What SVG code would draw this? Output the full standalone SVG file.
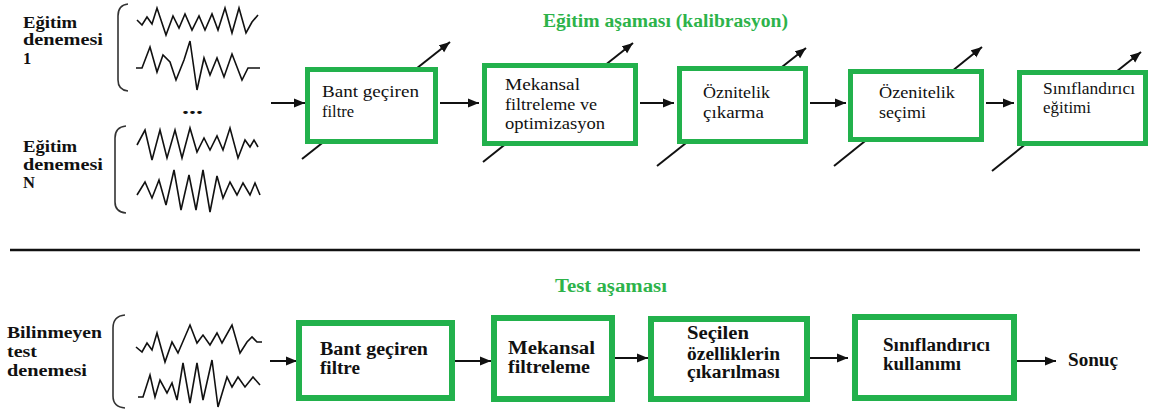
<svg xmlns="http://www.w3.org/2000/svg" width="1150" height="411" viewBox="0 0 1150 411">
<style>
.box{fill:#fff;stroke:#22b14c;stroke-width:5}
.bbox{fill:#fff;stroke:#22b14c;stroke-width:6}
.t{font-family:'Liberation Serif',serif;font-size:16.5px;fill:#111}
.b{font-family:'Liberation Serif',serif;font-size:18px;font-weight:bold;fill:#111}
.l{font-family:'Liberation Serif',serif;font-size:16.5px;font-weight:bold;fill:#111}
.g{font-family:'Liberation Serif',serif;font-size:18px;font-weight:bold;fill:#2db34a}
.ln{stroke:#111;stroke-width:2;fill:none}
.wave{stroke:#111;stroke-width:1.6;fill:none;stroke-linejoin:miter}
.br{stroke:#333;stroke-width:1.6;fill:none}
</style>
<defs>
<marker id="ah" markerUnits="userSpaceOnUse" markerWidth="12" markerHeight="10" refX="11" refY="5" orient="auto">
<path d="M0,0.5 L11,5 L0,9.5 Z" fill="#111"/>
</marker>
</defs>

<g id="title-train"><text class="g" x="543" y="27" textLength="245" lengthAdjust="spacingAndGlyphs">Eğitim aşaması (kalibrasyon)</text></g>
<g id="title-test"><text class="g" x="555" y="292" textLength="112" lengthAdjust="spacingAndGlyphs">Test aşaması</text></g>

<g id="trial1">
<text class="l" x="23" y="28" textLength="54" lengthAdjust="spacingAndGlyphs">Eğitim</text>
<text class="l" x="23" y="45" textLength="80" lengthAdjust="spacingAndGlyphs">denemesi</text>
<text class="l" x="23" y="64">1</text>
<path class="br" d="M128,4 Q118,5 118,16 L118,80 Q118,90 128,91"/>
<polyline class="wave" points="137,20 142,25 147,17 152,24 157,8 166,35 173,16 179,28 185,14 192,30 199,16 205,30 212,14 218,30 225,8 232,33 239,8 246,33 252,22 258,15"/>
<polyline class="wave" points="136,68 142,68 150,47 157,72 163,55 170,62 176,80 184,60 190,41 197,90 204,58 210,75 217,58 224,77 232,54 242,80 248,68 260,68"/>
</g>
<g id="dots"><text class="b" x="182" y="114" textLength="21" lengthAdjust="spacingAndGlyphs">...</text></g>
<g id="trialN">
<text class="l" x="23" y="152" textLength="54" lengthAdjust="spacingAndGlyphs">Eğitim</text>
<text class="l" x="23" y="170" textLength="80" lengthAdjust="spacingAndGlyphs">denemesi</text>
<text class="l" x="23" y="188">N</text>
<path class="br" d="M126,126 Q115,127 115,138 L115,202 Q115,212 126,213"/>
<polyline class="wave" points="137,145 145,130 152,160 160,130 167,158 175,130 182,158 190,128 197,152 204,138 210,150 217,136 223,150 230,128 238,158 245,140 250,147 254,140 258,147"/>
<polyline class="wave" points="137,195 145,182 152,198 159,180 166,205 174,170 181,210 189,175 196,210 203,170 210,212 217,176 223,198 230,182 237,195 243,183 250,195 255,183 260,195"/>
</g>
<g id="trialTest">
<text class="l" x="7" y="338" textLength="95" lengthAdjust="spacingAndGlyphs">Bilinmeyen</text>
<text class="l" x="7" y="357" textLength="30" lengthAdjust="spacingAndGlyphs">test</text>
<text class="l" x="7" y="376" textLength="80" lengthAdjust="spacingAndGlyphs">denemesi</text>
<path class="br" d="M125,315 Q113,316 113,328 L113,396 Q113,407 125,408"/>
<polyline class="wave" points="136,347 142,352 147,343 152,350 157,333 165,362 172,342 178,353 190,325 197,343 203,335 210,345 217,333 222,343 232,325 240,353 247,342 252,337 257,342 262,342"/>
<polyline class="wave" points="138,397 143,397 150,375 155,397 160,380 167,393 172,383 177,400 183,363 190,403 197,363 203,400 212,360 218,407 227,377 232,387 238,377 245,387 253,377 260,385"/>
</g>

<g id="connectors">
<line class="ln" x1="302" y1="159" x2="450" y2="42" marker-end="url(#ah)"/>
<line class="ln" x1="483" y1="162" x2="633" y2="43" marker-end="url(#ah)"/>
<line class="ln" x1="657" y1="166" x2="806" y2="48" marker-end="url(#ah)"/>
<line class="ln" x1="834" y1="166" x2="982" y2="47" marker-end="url(#ah)"/>
<line class="ln" x1="992" y1="171" x2="1141" y2="52" marker-end="url(#ah)"/>
<line class="ln" x1="271" y1="103" x2="305" y2="103" marker-end="url(#ah)"/>
<line class="ln" x1="440" y1="103" x2="479" y2="103" marker-end="url(#ah)"/>
<line class="ln" x1="640" y1="103" x2="674" y2="103" marker-end="url(#ah)"/>
<line class="ln" x1="810" y1="103" x2="846" y2="103" marker-end="url(#ah)"/>
<line class="ln" x1="986" y1="103" x2="1014" y2="103" marker-end="url(#ah)"/>
<line class="ln" x1="270" y1="361" x2="297" y2="361" marker-end="url(#ah)"/>
<line class="ln" x1="455" y1="361" x2="491" y2="361" marker-end="url(#ah)"/>
<line class="ln" x1="615" y1="358" x2="648" y2="358" marker-end="url(#ah)"/>
<line class="ln" x1="810" y1="358" x2="848" y2="358" marker-end="url(#ah)"/>
<line class="ln" x1="1017" y1="361" x2="1056" y2="361" marker-end="url(#ah)"/>
<line x1="10" y1="250" x2="1140" y2="250" stroke="#111" stroke-width="2.5"/>
</g>

<g id="n-bandpass">
<rect class="box" x="307.5" y="69.5" width="128" height="72"/>
<text class="t" x="322" y="97" textLength="97" lengthAdjust="spacingAndGlyphs">Bant geçiren</text>
<text class="t" x="322" y="117" textLength="32" lengthAdjust="spacingAndGlyphs">filtre</text>
</g>
<g id="n-spatial">
<rect class="box" x="484.5" y="65.5" width="151" height="78"/>
<text class="t" x="505" y="90" textLength="75" lengthAdjust="spacingAndGlyphs">Mekansal</text>
<text class="t" x="505" y="110" textLength="92" lengthAdjust="spacingAndGlyphs">filtreleme ve</text>
<text class="t" x="505" y="129" textLength="100" lengthAdjust="spacingAndGlyphs">optimizasyon</text>
</g>
<g id="n-featext">
<rect class="box" x="679.5" y="68.5" width="126" height="73"/>
<text class="t" x="703" y="98" textLength="67" lengthAdjust="spacingAndGlyphs">Öznitelik</text>
<text class="t" x="703" y="118" textLength="61" lengthAdjust="spacingAndGlyphs">çıkarma</text>
</g>
<g id="n-featsel">
<rect class="box" x="850.5" y="71.5" width="131" height="68"/>
<text class="t" x="879" y="98" textLength="76" lengthAdjust="spacingAndGlyphs">Özenitelik</text>
<text class="t" x="879" y="118" textLength="47" lengthAdjust="spacingAndGlyphs">seçimi</text>
</g>
<g id="n-train">
<rect class="box" x="1019.5" y="72.5" width="126" height="71"/>
<text class="t" x="1043" y="94" textLength="92" lengthAdjust="spacingAndGlyphs">Sınıflandırıcı</text>
<text class="t" x="1043" y="113" textLength="48" lengthAdjust="spacingAndGlyphs">eğitimi</text>
</g>

<g id="t-bandpass">
<rect class="bbox" x="299" y="323" width="153" height="75"/>
<text class="b" x="320" y="355" textLength="108" lengthAdjust="spacingAndGlyphs">Bant geçiren</text>
<text class="b" x="320" y="374" textLength="40" lengthAdjust="spacingAndGlyphs">filtre</text>
</g>
<g id="t-spatial">
<rect class="bbox" x="494" y="318" width="118" height="81"/>
<text class="b" x="508" y="354" textLength="87" lengthAdjust="spacingAndGlyphs">Mekansal</text>
<text class="b" x="508" y="373" textLength="82" lengthAdjust="spacingAndGlyphs">filtreleme</text>
</g>
<g id="t-features">
<rect class="bbox" x="651" y="319" width="156" height="80"/>
<text class="b" x="687" y="339" textLength="62" lengthAdjust="spacingAndGlyphs">Seçilen</text>
<text class="b" x="687" y="360" textLength="93" lengthAdjust="spacingAndGlyphs">özelliklerin</text>
<text class="b" x="687" y="378" textLength="93" lengthAdjust="spacingAndGlyphs">çıkarılması</text>
</g>
<g id="t-classifier">
<rect class="bbox" x="855" y="317" width="159" height="81"/>
<text class="b" x="883" y="351" textLength="107" lengthAdjust="spacingAndGlyphs">Sınıflandırıcı</text>
<text class="b" x="883" y="370" textLength="78" lengthAdjust="spacingAndGlyphs">kullanımı</text>
</g>
<g id="t-result"><text class="b" x="1068" y="366" textLength="50" lengthAdjust="spacingAndGlyphs">Sonuç</text></g>
</svg>
